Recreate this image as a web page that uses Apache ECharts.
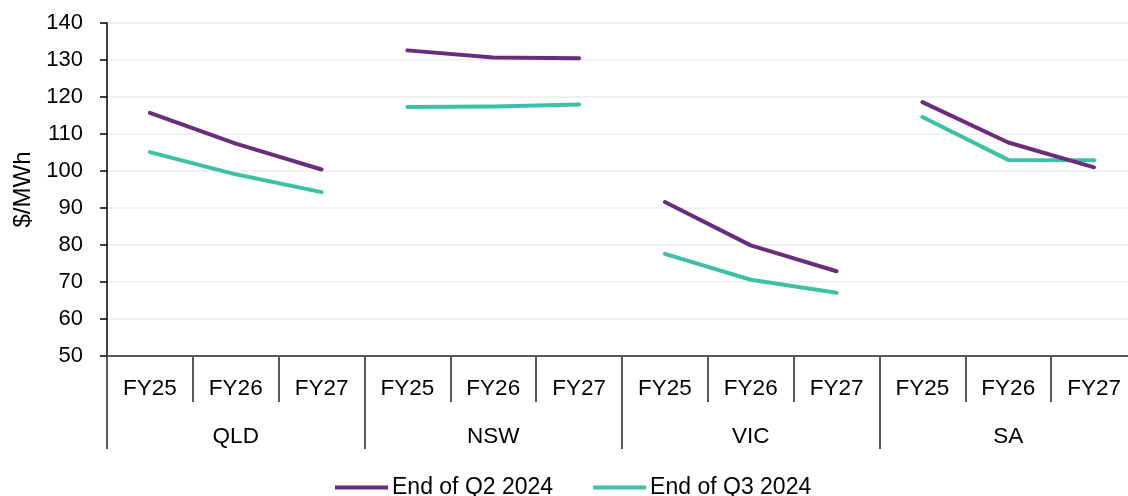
<!DOCTYPE html>
<html>
<head>
<meta charset="utf-8">
<style>
  html, body { margin: 0; padding: 0; background: #ffffff; overflow: hidden; }
  #chart { width: 1140px; height: 496px; }
</style>
<script src="https://cdn.jsdelivr.net/npm/echarts@6/dist/echarts.min.js"></script>
</head>
<body>
<div id="chart"></div>
<script>
// Forward prices by region and financial year ($/MWh)
const regions = ['QLD', 'NSW', 'VIC', 'SA'];
const years = ['FY25', 'FY26', 'FY27'];
const seriesNames = ['End of Q2 2024', 'End of Q3 2024'];
const endQ2 = [115.7, 107.4, 100.4, 132.6, 130.7, 130.5, 91.6, 79.9, 72.9, 118.6, 107.7, 101.0];
const endQ3 = [105.1, 99.1, 94.3, 117.3, 117.4, 118.0, 77.6, 70.6, 67.1, 114.6, 103.0, 102.9];
const yTicks = { min: 50, max: 140, interval: 10 };
const colors = ['#6B2D7B', '#3CC1A7'];

// One category per region/year pair
const categories = [];
regions.forEach(() => years.forEach(y => categories.push(y)));

// Each region gets its own line segment so lines break between regions
function regionSeries(name, values, color) {
  return regions.map((r, ri) => {
    const data = values.map((v, i) => (Math.floor(i / years.length) === ri ? v : null));
    return {
      name: name,
      type: 'line',
      xAxisIndex: 0,
      data: data,
      showSymbol: false,
      symbol: 'none',
      connectNulls: false,
      color: color,
      lineStyle: { color: color, width: 4, cap: 'round', join: 'round' },
      emphasis: { disabled: true },
      z: name === seriesNames[0] ? 3 : 2
    };
  });
}

const series = [
  ...regionSeries(seriesNames[0], endQ2, colors[0]),
  ...regionSeries(seriesNames[1], endQ3, colors[1])
];

const font = '"Liberation Sans", Arial, sans-serif';

const chart = echarts.init(document.getElementById('chart'), null, { renderer: 'canvas' });
chart.setOption({
  animation: false,
  backgroundColor: '#ffffff',
  textStyle: { fontFamily: font },
  grid: { left: 107, top: 23, width: 1030, height: 333, containLabel: false },
  legend: {
    data: seriesNames,
    left: 330,
    top: 471,
    icon: 'rect',
    itemWidth: 53,
    itemHeight: 4,
    itemGap: 40,
    textStyle: { fontFamily: font, fontSize: 23, color: '#000000', padding: [0, 0, 0, -1] }
  },
  xAxis: [
    {
      type: 'category',
      data: categories,
      position: 'bottom',
      boundaryGap: true,
      axisLine: { show: true, lineStyle: { color: '#595959', width: 2 } },
      axisTick: { show: true, interval: 0, length: 46, lineStyle: { color: '#595959', width: 2 } },
      axisLabel: { interval: 0, margin: 21, fontSize: 22.5, color: '#000000', fontFamily: font },
      splitLine: { show: false }
    },
    {
      type: 'category',
      data: regions,
      position: 'bottom',
      boundaryGap: true,
      axisLine: { show: false },
      axisTick: { show: true, interval: 0, length: 93, lineStyle: { color: '#595959', width: 2 } },
      axisLabel: { interval: 0, margin: 69, fontSize: 22.5, color: '#000000', fontFamily: font },
      splitLine: { show: false }
    }
  ],
  yAxis: {
    type: 'value',
    min: yTicks.min,
    max: yTicks.max,
    interval: yTicks.interval,
    name: '$/MWh',
    nameLocation: 'middle',
    nameGap: 72,
    nameTextStyle: { fontSize: 24, color: '#000000', fontFamily: font },
    axisLine: { show: true, lineStyle: { color: '#000000', width: 1.5 } },
    axisTick: { show: true, length: 7, lineStyle: { color: '#000000', width: 1.5 } },
    axisLabel: { margin: 24, fontSize: 22, color: '#000000', fontFamily: font },
    splitLine: { show: true, lineStyle: { color: '#ececec', width: 1.5 } }
  },
  series: series
});
</script>
</body>
</html>
